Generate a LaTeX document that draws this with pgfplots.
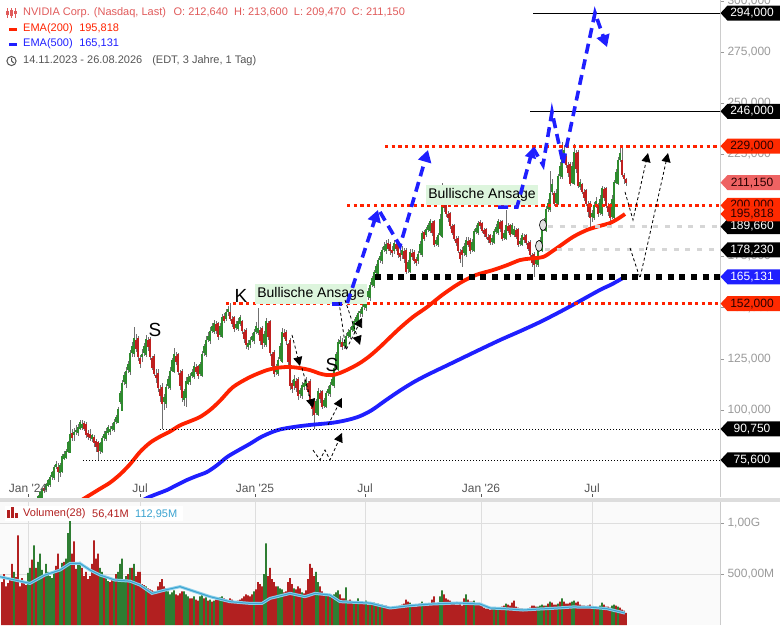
\documentclass[border=0pt]{standalone}
\usepackage{pgfplots}
\pgfplotsset{compat=1.18}
\usepackage{pgfplotstable}
\usepackage{fontspec}
\setmainfont{Liberation Sans}
\usetikzlibrary{arrows.meta}

\definecolor{upg}{HTML}{2E8B2E}
\definecolor{dnr}{HTML}{C0201F}
\definecolor{wick}{HTML}{707070}
\definecolor{emared}{HTML}{FF2200}
\definecolor{emablue}{HTML}{1F1FFF}
\definecolor{tagred}{HTML}{FF2A00}
\definecolor{taglight}{HTML}{EE6363}
\definecolor{tagtext}{HTML}{2A0000}
\definecolor{tagblue}{HTML}{1F1FFF}
\definecolor{volred}{HTML}{B22020}
\definecolor{volgreen}{HTML}{2E7D32}
\definecolor{volma}{HTML}{3BA3D0}
\definecolor{volmalight}{HTML}{8ACFEA}
\definecolor{ticklab}{HTML}{9A9A9A}
\definecolor{axisgray}{HTML}{CCCCCC}
\definecolor{gridc}{HTML}{DEDEDE}
\definecolor{volbg}{HTML}{FAFAFA}
\definecolor{sepgray}{HTML}{DDDDDD}
\definecolor{ansage}{HTML}{DDF5DD}
\definecolor{dotgray}{HTML}{D6D6D6}
\definecolor{legred}{HTML}{E05A5A}
\definecolor{leggray}{HTML}{555555}

\pgfplotstableread{
x o h l c v
2 47.5 49.0 46.8 48.0 420
4 48.0 49.3 47.6 48.6 500
6 48.0 49.5 47.2 48.5 380
8 48.4 49.0 47.2 47.8 410
10 48.5 49.2 46.9 47.5 450
12 47.6 48.9 47.1 48.4 600
14 47.5 49.5 47.0 48.8 520
16 48.7 49.3 47.6 48.1 470
18 48.8 49.4 47.3 47.9 880
20 47.9 49.4 47.5 48.7 380
22 47.9 49.8 47.5 49.0 460
24 49.1 49.6 47.9 48.2 420
26 49.0 49.6 48.0 48.5 390
28 48.6 50.6 48.2 50.0 510
30 48.5 52.8 48.2 52.0 560
32 52.2 54.0 51.2 53.0 640
34 52.0 55.3 51.5 54.5 780
36 54.8 56.8 53.5 56.0 560
38 54.5 58.5 54.0 57.5 620
40 57.5 60.3 56.5 59.5 700
42 57.5 62.0 56.8 61.0 540
44 61.5 63.0 59.5 60.5 480
46 61.0 64.5 60.0 63.5 600
48 63.2 66.2 62.4 65.5 520
50 63.5 68.0 62.5 67.0 480
52 67.5 70.3 66.0 69.5 460
54 67.0 73.0 66.0 72.0 520
56 72.5 75.0 71.0 73.5 580
58 72.0 74.0 65.0 70.0 700
60 69.5 74.0 67.5 73.0 540
62 70.0 78.5 69.0 77.0 610
64 76.5 80.0 75.5 78.0 620
66 77.0 81.0 76.0 79.5 650
68 80.0 85.0 79.0 84.0 900
70 79.5 95.0 79.0 88.0 1050
72 88.5 90.5 85.0 86.5 700
74 88.0 91.0 85.0 89.0 820
76 89.5 92.5 88.0 90.0 550
78 89.0 93.0 87.5 91.5 600
80 91.0 95.0 90.0 94.0 620
82 91.5 95.0 90.0 93.0 560
84 93.5 94.5 89.5 91.0 480
86 93.0 94.0 86.5 88.0 520
88 88.5 90.0 85.5 87.0 450
90 88.0 90.5 85.0 86.5 480
92 86.0 88.5 84.5 87.5 600
94 86.5 88.0 82.0 84.0 830
96 84.5 86.0 79.5 82.0 650
98 84.0 85.0 75.5 80.0 700
100 80.5 84.5 78.5 83.5 560
102 80.0 87.5 79.0 86.0 520
104 86.5 89.5 85.0 88.0 480
106 86.0 91.0 85.0 89.5 480
108 89.0 92.5 88.0 91.5 430
110 89.5 92.0 88.0 90.5 420
112 91.0 93.5 89.5 92.0 460
114 90.5 95.5 89.5 94.0 450
116 94.5 97.5 93.0 96.5 500
118 94.0 101.5 93.5 100.0 520
120 104.0 109.5 103.0 108.0 600
122 100.0 114.5 100.0 113.0 650
124 114.0 118.5 112.0 117.0 450
126 113.0 121.0 111.0 119.0 480
128 120.0 124.0 118.0 122.0 500
130 119.0 129.5 117.0 127.5 560
132 128.0 133.0 126.0 131.0 560
134 127.5 140.5 126.0 135.0 600
136 134.0 137.0 128.5 130.0 480
138 135.0 136.0 124.0 126.0 520
140 125.0 127.0 120.5 123.0 520
142 126.0 130.0 123.5 127.0 400
144 128.0 133.0 126.5 131.0 390
146 127.0 136.5 126.0 134.5 380
148 134.0 135.5 129.0 131.0 360
150 134.5 135.5 124.5 126.0 350
152 125.0 126.5 119.5 121.0 340
154 126.0 127.5 116.5 118.0 330
156 117.0 120.0 113.0 116.0 320
158 118.0 120.0 109.0 111.0 380
160 110.0 112.0 104.0 107.0 420
162 111.0 113.0 90.8 103.0 450
164 104.0 108.0 100.0 106.0 380
166 103.0 112.5 101.0 111.0 360
168 112.0 116.5 110.5 115.0 330
170 111.0 121.0 110.0 119.0 300
172 119.5 125.5 118.5 124.0 320
174 119.0 130.5 118.0 127.0 340
176 126.0 128.5 122.0 124.0 300
178 127.0 128.0 117.0 119.0 290
180 118.0 119.5 110.0 112.0 310
182 119.0 120.0 104.0 106.0 330
184 105.0 110.5 102.0 109.0 330
186 106.0 116.0 101.5 114.0 300
188 113.0 117.5 112.0 116.0 280
190 114.0 118.0 112.0 116.5 260
192 117.0 120.0 115.5 118.5 260
194 116.5 123.5 115.0 121.0 280
196 120.5 122.5 117.5 119.0 250
198 121.0 122.0 115.0 117.0 240
200 118.0 123.5 116.5 122.0 280
202 117.0 129.0 116.0 127.0 300
204 128.0 132.5 126.5 131.0 260
206 127.0 136.0 126.0 134.0 270
208 134.5 138.0 133.0 136.0 240
210 134.0 140.5 132.5 138.5 250
212 139.0 142.5 137.5 141.0 230
214 138.5 144.0 137.0 142.0 240
216 141.5 143.5 137.0 139.0 250
218 142.0 143.0 134.0 136.0 260
220 137.0 142.5 135.5 141.0 270
222 136.0 147.0 135.0 145.0 280
224 145.5 147.5 142.5 144.0 260
226 145.0 149.5 143.5 147.5 250
228 148.0 151.0 146.0 149.0 240
230 147.5 152.5 143.5 145.0 260
232 144.0 146.0 140.5 142.5 250
234 145.0 146.0 138.0 140.0 230
236 140.5 143.5 139.0 141.5 230
238 140.0 145.0 138.5 143.0 240
240 142.5 146.5 141.0 145.0 250
242 143.0 144.0 137.0 139.0 260
244 138.0 139.5 133.0 135.0 280
246 139.0 140.0 130.0 132.0 300
248 131.0 134.0 129.5 132.5 290
250 132.0 135.5 130.5 134.0 280
252 134.5 137.5 133.0 136.0 300
254 134.0 139.5 132.5 138.0 330
256 138.5 143.0 137.0 141.0 350
258 138.0 150.0 136.5 140.0 420
260 139.0 140.5 132.0 134.0 400
262 140.0 141.0 130.0 132.0 380
264 133.0 138.5 131.0 137.0 500
266 132.0 145.0 131.0 143.0 800
268 142.0 143.5 134.0 136.0 480
270 143.0 144.0 126.5 128.0 560
272 127.0 128.5 120.0 122.0 450
274 128.0 129.5 116.0 118.0 420
276 119.0 122.5 117.0 121.0 380
278 118.0 126.0 116.5 124.0 380
280 125.0 133.0 124.0 131.0 360
282 124.0 140.0 123.0 138.0 350
284 137.5 139.5 134.5 136.0 320
286 138.0 139.0 132.0 134.0 330
288 132.0 133.0 121.0 124.0 420
290 134.0 135.0 110.0 112.0 460
292 113.0 114.5 108.5 110.5 400
294 112.0 117.0 110.0 115.0 360
296 114.0 115.5 109.0 111.0 350
298 115.0 116.0 105.0 107.0 380
300 108.0 111.0 106.0 109.5 360
302 107.0 113.5 105.5 112.0 320
304 111.5 114.5 110.0 113.0 310
306 112.0 116.0 110.0 114.0 340
308 113.0 114.0 107.0 109.0 450
310 114.0 115.0 102.0 104.0 600
312 103.0 105.0 97.0 101.0 560
314 104.0 105.5 90.8 98.0 480
316 99.0 105.5 97.5 104.0 520
318 98.0 111.0 97.0 109.0 420
320 108.0 110.0 103.5 105.5 380
322 109.0 110.0 100.5 102.0 330
324 102.5 106.0 101.0 104.5 310
326 102.0 109.5 101.0 108.0 300
328 108.5 111.5 107.0 110.0 290
330 108.0 113.5 106.5 112.0 280
332 112.5 116.5 111.5 115.0 280
334 112.0 121.5 111.0 120.0 300
336 121.0 128.5 120.0 127.0 320
338 120.0 134.5 119.0 133.0 340
340 132.5 136.0 131.0 134.0 300
342 133.0 135.0 129.5 131.0 260
344 131.5 134.5 130.0 133.0 260
346 131.0 137.5 130.0 136.0 370
348 136.5 139.5 135.0 138.0 240
350 136.0 140.5 134.5 139.0 250
352 139.5 142.5 138.0 141.0 220
354 139.0 144.5 137.5 143.0 230
356 143.5 146.5 142.0 145.0 230
358 143.0 148.5 141.5 147.0 260
360 147.5 149.5 145.5 148.0 210
362 147.0 151.5 145.5 150.0 220
364 150.5 154.5 149.0 153.0 220
366 150.0 156.5 148.5 155.0 240
368 155.5 159.5 154.0 158.0 200
370 155.0 162.5 153.5 161.0 200
372 161.5 165.5 160.0 164.0 210
374 161.0 168.5 159.5 167.0 220
376 167.5 171.5 166.0 170.0 190
378 167.0 174.5 165.5 173.0 210
380 173.5 177.0 172.0 175.0 200
382 173.0 179.5 171.5 178.0 200
384 178.5 182.0 177.0 180.0 180
386 178.0 183.0 176.5 181.0 190
388 181.5 183.5 177.5 179.0 170
390 181.0 182.0 176.0 178.0 170
392 178.0 180.0 175.0 177.0 160
394 178.0 183.0 176.5 181.5 160
396 181.0 182.5 177.5 179.0 170
398 181.5 182.5 174.5 176.0 180
400 176.5 178.0 173.0 175.0 190
402 176.0 180.0 174.0 178.0 200
404 177.5 179.0 172.0 174.0 210
406 178.0 179.0 166.5 168.0 250
408 169.0 173.5 167.0 172.0 230
410 168.0 178.5 167.0 177.0 220
412 176.5 178.5 173.5 175.0 200
414 177.0 178.0 171.5 173.0 180
416 173.5 175.0 170.5 172.0 180
418 173.0 177.5 171.5 176.0 190
420 177.0 182.5 176.0 181.0 210
422 176.0 187.5 175.0 186.0 230
424 186.5 188.0 182.5 184.0 200
426 186.0 189.5 184.5 188.0 200
428 188.5 191.5 187.0 190.0 190
430 188.0 193.5 186.5 192.0 210
432 191.0 192.5 185.0 187.0 250
434 192.0 193.0 179.5 181.0 280
436 181.5 184.5 180.0 183.0 210
438 181.0 186.5 179.5 185.0 220
440 186.0 196.0 185.0 193.0 280
442 185.0 211.0 184.0 202.0 340
444 201.0 204.0 197.0 199.0 300
446 202.0 203.0 194.5 196.0 260
448 195.5 197.5 192.0 194.0 250
450 196.0 197.0 188.5 190.0 240
452 189.5 191.0 185.5 187.0 220
454 190.0 191.0 182.5 184.0 210
456 183.5 185.0 180.0 182.0 200
458 184.0 185.0 176.5 178.0 200
460 177.0 178.5 172.0 174.0 210
462 178.0 179.5 170.0 176.0 190
464 177.0 181.5 175.5 180.0 260
466 176.0 184.5 175.0 183.0 300
468 182.5 184.5 179.5 181.0 250
470 183.0 184.0 176.5 178.0 230
472 178.5 183.5 177.0 182.0 230
474 178.0 188.5 177.0 187.0 240
476 187.5 190.5 186.0 188.5 210
478 187.0 192.5 185.5 191.0 200
480 191.5 193.0 188.5 190.0 200
482 191.0 192.0 186.5 188.0 190
484 187.5 189.0 184.5 186.5 170
486 188.0 189.0 183.5 185.0 160
488 184.5 186.0 181.5 183.5 160
490 185.0 186.0 180.5 182.0 150
492 182.5 185.5 180.5 184.0 160
494 182.0 188.5 181.0 187.0 170
496 187.5 191.0 186.0 189.0 170
498 187.0 193.5 185.5 192.0 160
500 191.5 193.0 187.0 189.0 170
502 192.0 193.0 182.5 184.0 180
504 184.5 188.0 183.0 186.0 190
506 184.0 198.0 183.0 190.0 210
508 189.5 191.5 186.5 188.0 200
510 190.0 191.0 184.5 186.0 190
512 186.5 191.5 185.5 190.0 220
514 186.0 190.0 184.5 188.0 240
516 187.5 189.0 183.5 185.0 180
518 188.0 189.0 179.5 181.0 170
520 181.5 184.0 180.0 182.5 160
522 181.0 186.5 180.0 185.0 160
524 184.5 186.0 181.5 183.5 150
526 185.0 186.0 180.5 182.0 150
528 181.5 182.5 177.5 179.0 160
530 182.0 183.0 174.5 176.0 170
532 175.5 176.5 170.0 172.0 190
534 176.0 177.0 165.0 171.0 190
536 171.5 175.5 170.0 174.0 180
538 171.0 179.5 170.0 178.0 180
540 178.5 184.5 177.5 183.0 190
542 178.0 189.5 177.0 188.0 200
544 188.5 194.0 187.5 192.0 190
546 188.0 199.5 187.0 198.0 190
548 198.5 203.0 197.0 201.0 210
550 198.0 217.0 197.0 206.0 230
552 207.0 213.0 205.0 210.0 220
554 206.0 207.0 199.5 201.0 200
556 201.5 208.0 200.5 206.0 200
558 201.0 215.5 200.0 214.0 210
560 214.5 221.0 213.0 219.0 230
562 214.0 231.0 213.0 224.0 260
564 224.5 229.5 222.0 227.0 230
566 224.0 225.0 218.5 220.0 210
568 219.5 221.0 214.0 216.0 210
570 220.0 221.0 209.5 211.0 220
572 211.5 221.0 210.5 219.0 230
574 211.0 230.0 210.0 226.0 240
576 225.5 227.0 216.0 218.0 220
578 226.0 227.0 208.5 210.0 230
580 209.5 213.0 207.5 211.0 200
582 210.0 211.0 205.5 207.0 190
584 206.5 208.0 202.0 204.0 190
586 207.0 208.0 199.5 201.0 180
588 200.5 202.0 194.5 197.0 190
590 201.0 202.0 189.0 194.0 200
592 194.5 198.0 192.0 196.0 180
594 194.0 201.5 193.0 200.0 170
596 200.5 204.0 198.5 202.0 170
598 200.0 201.0 194.5 196.0 160
600 196.5 205.0 195.5 203.0 190
602 196.0 209.5 195.0 208.0 220
604 207.5 209.0 202.0 204.0 200
606 208.0 209.0 198.5 200.0 180
608 199.5 201.0 195.0 197.0 180
610 200.0 201.0 190.0 194.0 170
612 194.5 205.0 193.5 203.0 190
614 194.0 212.5 193.0 211.0 200
616 211.5 218.0 210.5 216.0 190
618 211.0 223.5 210.0 222.0 180
620 222.5 228.5 221.0 225.5 170
622 222.0 228.0 214.0 215.0 150
624 214.5 216.0 210.5 213.0 140
626 212.64 213.6 209.47 211.15 120
}\candles

\newcommand\tagf{\fontsize{12}{14}\selectfont}
\newcommand\ptag[4]{%
  \fill[#2] (#1) ++(0.5pt,0pt) -- ++(7pt,7.5pt) -- ++(52.5pt,0pt) -- ++(0pt,-15pt) -- ++(-52.5pt,0pt) -- cycle;
  \node[text=#3, font=\tagf, inner sep=0pt] at ([xshift=32pt]#1) {#4};}

\begin{document}
\begin{tikzpicture}
\begin{axis}[
  name=main, at={(0pt,0pt)}, anchor=north west,
  scale only axis, width=720pt, height=497pt,
  xmin=0, xmax=720, ymin=57.48, ymax=300.4,
  clip mode=individual,
  axis x line=none, axis y line*=right,
  y axis line style={draw=axisgray, line width=0.8pt},
  ytick={100,125,150,175,200,225,250,275,300},
  yticklabels={{100,000},{125,000},{150,000},{175,000},{200,000},{225,000},{250,000},{275,000},{300,000}},
  tick align=outside, major tick length=4pt,
  ytick style={draw=ticklab, line width=0.6pt},
  yticklabel style={font=\fontsize{12}{14}\selectfont, text=ticklab},
  /pgf/number format/assume math mode=true,
]
% candles: wicks
\addplot[draw=none, forget plot, error bars/.cd, y dir=both, y explicit, error mark=none,
  error bar style={draw=wick, line width=0.6pt}]
  table[x=x, y expr={(\thisrow{h}+\thisrow{l})/2}, y error expr={(\thisrow{h}-\thisrow{l})/2}] {\candles};
% up bodies
\addplot[draw=none, forget plot, restrict expr to domain={\thisrow{c}-\thisrow{o}}{0:1000},
  error bars/.cd, y dir=both, y explicit, error mark=none,
  error bar style={draw=upg, line width=1.6pt}]
  table[x=x, y expr={(\thisrow{o}+\thisrow{c})/2}, y error expr={abs(\thisrow{c}-\thisrow{o})/2+0.3}] {\candles};
% down bodies
\addplot[draw=none, forget plot, restrict expr to domain={\thisrow{c}-\thisrow{o}}{-1000:-0.001},
  error bars/.cd, y dir=both, y explicit, error mark=none,
  error bar style={draw=dnr, line width=1.6pt}]
  table[x=x, y expr={(\thisrow{o}+\thisrow{c})/2}, y error expr={abs(\thisrow{c}-\thisrow{o})/2+0.3}] {\candles};

% EMA 200
\addplot[emared, line width=3.8pt, smooth, tension=0.5] coordinates {
(80,55.5)(90,58.5)(100,61.5)(110,64.5)(120,68.5)(130,73.5)(140,79.5)(150,84.0)(160,87.0)
(170,89.5)(180,92.5)(190,94.5)(200,96.6)(210,100.0)(220,104.5)(233,111.2)(250,116.1)
(267,119.5)(280,120.8)(290,121.0)(300,120.5)(310,119.5)(320,117.8)(327,117.1)(335,117.3)
(340,118.1)(350,120.3)(360,123.0)(370,126.5)(380,130.8)(390,135.5)(400,140.1)(413,145.5)
(427,150.3)(443,156.5)(460,162.1)(476,166.0)(493,168.4)(507,170.8)(520,173.3)(530,174.0)
(543,174.8)(552,177.5)(560,180.2)(573,184.6)(587,188.0)(600,190.0)(610,191.4)(618,193.5)(625,195.8)};
% EMA 500
\addplot[emablue, line width=3.8pt, smooth, tension=0.5] coordinates {
(140,55.0)(147,57.0)(157,59.0)(167,60.9)(177,63.4)(187,65.8)(197,67.8)(207,69.7)(217,73.0)
(227,77.0)(238,80.2)(250,83.5)(260,86.5)(270,88.8)(280,90.5)(295,91.8)(310,92.7)(333,93.8)
(348,95.2)(360,97.0)(372,100.0)(385,104.5)(400,109.5)(415,114.0)(430,117.8)(450,122.5)
(475,128.4)(500,134.2)(520,138.5)(540,143.0)(560,148.0)(580,153.3)(600,158.7)(612,161.5)(625,165.1)};

% horizontal levels
\draw[black, line width=0.8pt] (axis cs:533,294) -- (axis cs:720,294);
\draw[black, line width=0.8pt] (axis cs:530,246) -- (axis cs:720,246);
\draw[emared, line width=3pt, dash pattern=on 3.3pt off 3.4pt] (axis cs:385,229) -- (axis cs:720,229);
\draw[emared, line width=3pt, dash pattern=on 3.3pt off 3.4pt] (axis cs:347,200) -- (axis cs:720,200);
\draw[emared, line width=3pt, dash pattern=on 3.3pt off 3.4pt] (axis cs:226,152) -- (axis cs:720,152);
\draw[dotgray, line width=3pt, dash pattern=on 5pt off 6.7pt] (axis cs:548,189.66) -- (axis cs:720,189.66);
\draw[dotgray, line width=3pt, dash pattern=on 5pt off 6.7pt] (axis cs:545,178.23) -- (axis cs:720,178.23);
\draw[black, line width=5.5pt, dash pattern=on 6pt off 5.7pt] (axis cs:375,165.131) -- (axis cs:720,165.131);
\draw[black, line width=0.7pt, dash pattern=on 1pt off 2pt] (axis cs:160,90.75) -- (axis cs:720,90.75);
\draw[black, line width=0.7pt, dash pattern=on 1pt off 2pt] (axis cs:83,75.6) -- (axis cs:720,75.6);

% x ticks at the bottom and labels
\draw[leggray, line width=0.8pt] (axis cs:28,57.48) -- ++(0pt,3.5pt);
\draw[leggray, line width=0.8pt] (axis cs:140,57.48) -- ++(0pt,3.5pt);
\draw[leggray, line width=0.8pt] (axis cs:255,57.48) -- ++(0pt,3.5pt);
\draw[leggray, line width=0.8pt] (axis cs:365,57.48) -- ++(0pt,3.5pt);
\draw[leggray, line width=0.8pt] (axis cs:481,57.48) -- ++(0pt,3.5pt);
\draw[leggray, line width=0.8pt] (axis cs:592,57.48) -- ++(0pt,3.5pt);
\node[text=leggray, font=\fontsize{12}{14}\selectfont] at (axis cs:28,61.9) {Jan \textquotesingle 24};
\node[text=leggray, font=\fontsize{12}{14}\selectfont] at (axis cs:140,61.9) {Jul};
\node[text=leggray, font=\fontsize{12}{14}\selectfont] at (axis cs:255,61.9) {Jan \textquotesingle 25};
\node[text=leggray, font=\fontsize{12}{14}\selectfont] at (axis cs:365,61.9) {Jul};
\node[text=leggray, font=\fontsize{12}{14}\selectfont] at (axis cs:481,61.9) {Jan \textquotesingle 26};
\node[text=leggray, font=\fontsize{12}{14}\selectfont] at (axis cs:592,61.9) {Jul};

% labels
\node[font=\fontsize{19}{21}\selectfont] at (axis cs:155,139.1) {S};
\node[font=\fontsize{19}{21}\selectfont] at (axis cs:241,155.7) {K};
\node[font=\fontsize{19}{21}\selectfont] at (axis cs:332,122.0) {S};
\node[fill=ansage, font=\fontsize{14}{16}\selectfont, inner xsep=2pt, inner ysep=3pt] at (axis cs:311,156.7) {Bullische Ansage};
\node[fill=ansage, font=\fontsize{14}{16}\selectfont, inner xsep=2pt, inner ysep=3pt] at (axis cs:482,205.1) {Bullische Ansage};

% circles
\draw[black, fill=gray!25, line width=0.6pt] (axis cs:543,190.4) ellipse [x radius=3.5pt, y radius=5.5pt];
\draw[black, fill=gray!25, line width=0.6pt] (axis cs:539,180.2) ellipse [x radius=3.5pt, y radius=5.5pt];

% blue dashed arrows
\begin{scope}[emablue, line width=3.6pt, dash pattern=on 10pt off 6pt]
\draw[-{Triangle[length=12pt,width=13pt]}] (axis cs:332,151.8) -- (axis cs:347,151.8) -- (axis cs:378,197.8);
\draw[-{Triangle[length=12pt,width=13pt]}] (axis cs:380,196.8) -- (axis cs:400,180.2) -- (axis cs:428,227.1);
\draw[-{Triangle[length=10pt,width=11pt]}] (axis cs:498,199.2) -- (axis cs:517,199.2) -- (axis cs:533,228.1);
\draw (axis cs:533,228.1) -- (axis cs:543,219.8) -- (axis cs:552,245.7) -- (axis cs:563,220.7);
\draw[-{Triangle[length=12pt,width=13pt]}] (axis cs:563,220.7) -- (axis cs:595,294.1) -- (axis cs:607,277.4);
\end{scope}

% black dashed arrows
\begin{scope}[black, line width=0.8pt, dash pattern=on 3pt off 2.5pt]
\draw[-{Triangle[length=9pt,width=9pt]}] (axis cs:292,136.7) -- (axis cs:300,121.5);
\draw[-{Triangle[length=9pt,width=9pt]}] (axis cs:302,120.5) -- (axis cs:313,101.0);
\draw[-{Triangle[length=9pt,width=9pt]}] (axis cs:313,80.4) -- (axis cs:320,75.6) -- (axis cs:325,80.4) -- (axis cs:330,75.6) -- (axis cs:342,88.8);
\draw[-{Triangle[length=9pt,width=9pt]}] (axis cs:328,92.7) -- (axis cs:342,105.9);
\draw[-{Triangle[length=9pt,width=9pt]}] (axis cs:339,152.8) -- (axis cs:346,129.3) -- (axis cs:362,145.0);
\draw[-{Triangle[length=9pt,width=9pt]}] (axis cs:345,153.8) -- (axis cs:360,131.8);
\draw[-{Triangle[length=9pt,width=9pt]}] (axis cs:625,206.6) -- (axis cs:633,192.9) -- (axis cs:648,225.6);
\draw[-{Triangle[length=9pt,width=9pt]}] (axis cs:630,179.2) -- (axis cs:640,164.5) -- (axis cs:668,225.6);
\end{scope}

% tag anchors
\coordinate (T294) at (axis cs:720,294);
\coordinate (T246) at (axis cs:720,246);
\coordinate (T229) at (axis cs:720,229);
\coordinate (T211) at (axis cs:720,211.15);
\coordinate (T200) at (axis cs:720,200);
\coordinate (T195) at (axis cs:720,195.818);
\coordinate (T189) at (axis cs:720,189.66);
\coordinate (T178) at (axis cs:720,178.23);
\coordinate (T165) at (axis cs:720,165.131);
\coordinate (T152) at (axis cs:720,152);
\coordinate (T90) at (axis cs:720,90.75);
\coordinate (T75) at (axis cs:720,75.6);
\end{axis}

% separator
\fill[sepgray] (0pt,-497.5pt) rectangle (780pt,-501.5pt);

\begin{axis}[
  name=vol, at={(0pt,-502pt)}, anchor=north west,
  scale only axis, width=720pt, height=123pt,
  xmin=0, xmax=720, ymin=0, ymax=1206,
  axis background/.style={fill=volbg},
  axis x line*=bottom, axis y line*=right,
  x axis line style={draw=none},
  y axis line style={draw=axisgray, line width=0.8pt},
  xtick={28,140,255,365,481,592}, xticklabels={},
  xtick style={draw=none},
  xmajorgrids, ymajorgrids,
  grid style={draw=gridc, line width=0.9pt},
  ytick={500,1000}, yticklabels={{500,00M},{1,00G}},
  tick align=outside, major tick length=4pt,
  ytick style={draw=ticklab, line width=0.6pt},
  yticklabel style={font=\fontsize{12}{14}\selectfont, text=ticklab},
]
\addplot[ybar, bar width=1.8pt, bar shift=0pt, draw=none, fill=volred,
  restrict expr to domain={(\thisrow{c}-\thisrow{o})/\thisrow{o}}{-10:0.0249}] table[x=x, y=v] {\candles};
\addplot[ybar, bar width=1.8pt, bar shift=0pt, draw=none, fill=volgreen,
  restrict expr to domain={(\thisrow{c}-\thisrow{o})/\thisrow{o}}{0.025:10}] table[x=x, y=v] {\candles};
\addplot[volmalight, line width=3pt] coordinates {
(0,473)(15,441)(30,408)(45,490)(60,539)(70,604)(80,604)(90,539)(100,490)(115,441)(130,430)
(140,392)(152,310)(165,343)(180,376)(195,327)(210,278)(230,229)(250,212)(262,212)(270,261)
(290,310)(305,278)(315,310)(330,294)(340,229)(355,222)(370,215)(390,167)(410,190)(430,205)
(457,216)(480,206)(490,167)(505,160)(523,147)(540,157)(555,165)(573,177)(590,175)(607,160)(625,117)};
\addplot[volma, line width=1pt] coordinates {
(0,473)(15,441)(30,408)(45,490)(60,539)(70,604)(80,604)(90,539)(100,490)(115,441)(130,430)
(140,392)(152,310)(165,343)(180,376)(195,327)(210,278)(230,229)(250,212)(262,212)(270,261)
(290,310)(305,278)(315,310)(330,294)(340,229)(355,222)(370,215)(390,167)(410,190)(430,205)
(457,216)(480,206)(490,167)(505,160)(523,147)(540,157)(555,165)(573,177)(590,175)(607,160)(625,117)};
\end{axis}

% price tags
\ptag{T294}{black}{white}{294,000}
\ptag{T246}{black}{white}{246,000}
\ptag{T229}{tagred}{tagtext}{229,000}
\ptag{T211}{taglight}{tagtext}{211,150}
\ptag{T189}{black}{white}{189,660}
\ptag{T200}{tagred}{tagtext}{200,000}
\ptag{T195}{tagred}{tagtext}{195,818}
\ptag{T178}{black}{white}{178,230}
\ptag{T165}{tagblue}{white}{165,131}
\ptag{T152}{tagred}{tagtext}{152,000}
\ptag{T90}{black}{white}{90,750}
\ptag{T75}{black}{white}{75,600}

% legend top-left
\begin{scope}[legred, line width=0.9pt]
\draw (7.5pt,-8pt) -- (7.5pt,-18pt); \fill (6pt,-15pt) rectangle (9pt,-11pt);
\draw (11.5pt,-8pt) -- (11.5pt,-18pt); \fill (10pt,-16pt) rectangle (13pt,-10pt);
\draw (15.5pt,-8pt) -- (15.5pt,-18pt); \fill (14pt,-14pt) rectangle (17pt,-11pt);
\end{scope}
\node[anchor=west, inner sep=0pt, text=legred, font=\fontsize{11}{13}\selectfont] at (23pt,-13pt)
  {NVIDIA Corp. (Nasdaq, Last)\hspace{4.5pt} O: 212,640\hspace{3pt} H: 213,600\hspace{3pt} L: 209,470\hspace{3pt} C: 211,150};
\fill[emared] (9pt,-27.5pt) rectangle (17pt,-30.5pt);
\node[anchor=west, inner sep=0pt, text=emared, font=\fontsize{11}{13}\selectfont] at (23pt,-29pt) {EMA(200)\hspace{3.5pt} 195,818};
\fill[emablue] (9pt,-42.5pt) rectangle (17pt,-45.5pt);
\node[anchor=west, inner sep=0pt, text=emablue, font=\fontsize{11}{13}\selectfont] at (23pt,-44pt) {EMA(500)\hspace{3.5pt} 165,131};
\draw[leggray, line width=1pt] (11.5pt,-61pt) circle (4.6pt);
\draw[leggray, line width=1pt] (11.5pt,-58pt) -- (11.5pt,-61pt) -- (13.8pt,-63pt);
\node[anchor=west, inner sep=0pt, text=leggray, font=\fontsize{11}{13}\selectfont] at (23pt,-61pt) {14.11.2023 - 26.08.2026\hspace{7pt} (EDT, 3 Jahre, 1 Tag)};

% volume legend
\fill[white] (5pt,-506pt) rectangle (183pt,-521pt);
\fill[volred] (7pt,-518pt) rectangle (9.5pt,-510pt);
\fill[volred] (11pt,-518pt) rectangle (13.5pt,-506.5pt);
\fill[volred] (15pt,-518pt) rectangle (17.5pt,-513pt);
\node[anchor=west, inner sep=0pt, text=volred, font=\fontsize{11}{13}\selectfont] at (23pt,-514pt) {Volumen(28)};
\node[anchor=west, inner sep=0pt, text=volred, font=\fontsize{11}{13}\selectfont] at (92pt,-514pt) {56,41M};
\node[anchor=west, inner sep=0pt, text=volma, font=\fontsize{11}{13}\selectfont] at (135pt,-514pt) {112,95M};

\pgfresetboundingbox
\useasboundingbox (0pt,0pt) rectangle (780pt,-625pt);
\end{tikzpicture}
\end{document}
